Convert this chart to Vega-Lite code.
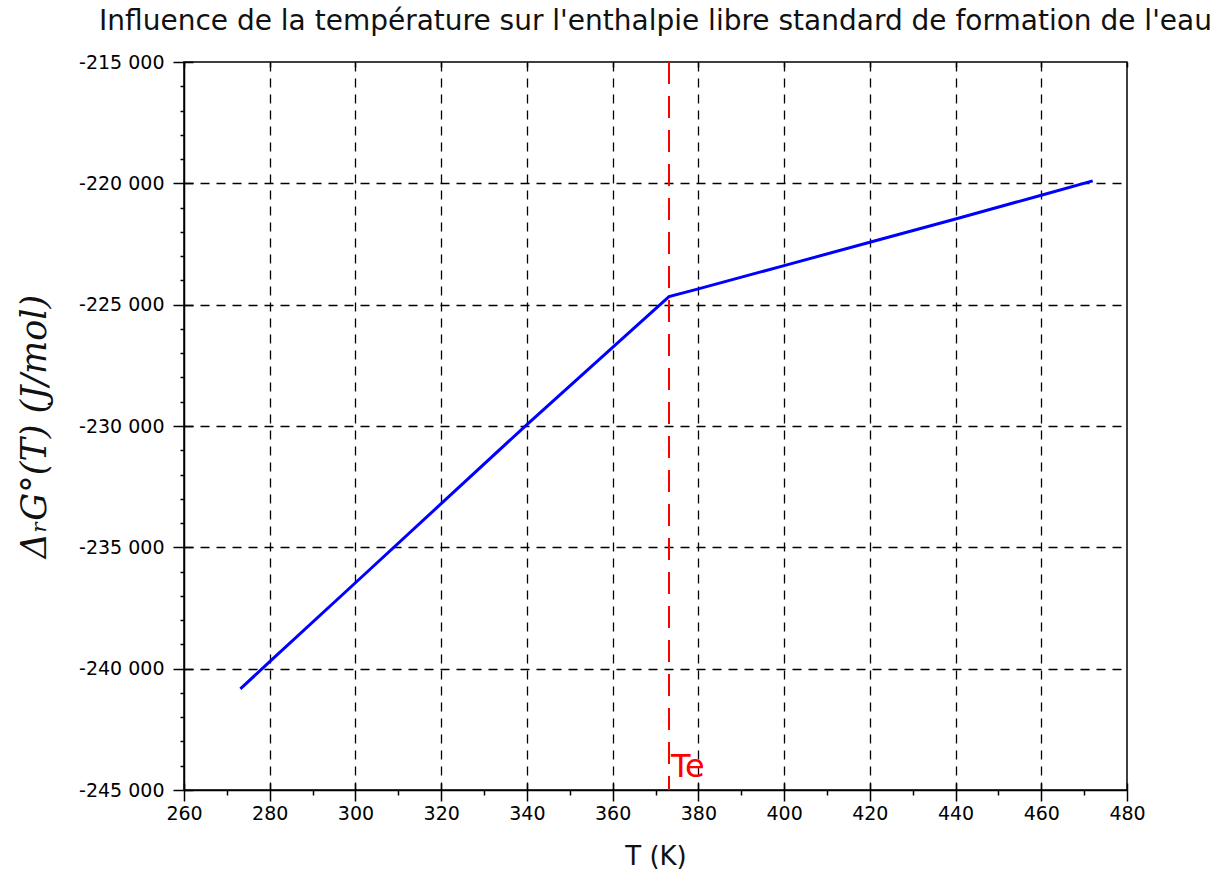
{
  "$schema": "https://vega.github.io/schema/vega-lite/v6.json",
  "width": 943,
  "height": 728,
  "autosize": {"type": "none"},
  "padding": {"left": 184, "top": 62, "right": 101, "bottom": 86},
  "background": "white",
  "title": {
    "text": "Influence de la température sur l'enthalpie libre standard de formation de l'eau",
    "anchor": "middle",
    "frame": "group",
    "font": "DejaVu Sans",
    "fontSize": 28,
    "fontWeight": "normal",
    "color": "#111111",
    "offset": 17
  },
  "config": {
    "view": {"stroke": "black", "strokeWidth": 1.5},
    "axis": {
      "labelFont": "DejaVu Sans",
      "labelColor": "black",
      "tickColor": "black",
      "domainColor": "black",
      "titleFont": "DejaVu Sans",
      "titleColor": "#111111",
      "titleFontWeight": "normal"
    }
  },
  "resolve": {"axis": {"x": "independent", "y": "independent"}},
  "layer": [
    {
      "data": {
        "values": [
          {"T": 273.15, "G": -240830},
          {"T": 280, "G": -239710},
          {"T": 300, "G": -236460},
          {"T": 320, "G": -233200},
          {"T": 340, "G": -229940},
          {"T": 360, "G": -226760},
          {"T": 373.15, "G": -224670},
          {"T": 380, "G": -224350},
          {"T": 400, "G": -223390},
          {"T": 420, "G": -222430},
          {"T": 440, "G": -221470},
          {"T": 460, "G": -220490},
          {"T": 472, "G": -219900}
        ]
      },
      "mark": {"type": "line", "color": "#0000ff", "strokeWidth": 3},
      "encoding": {
        "x": {
          "field": "T",
          "type": "quantitative",
          "scale": {"domain": [260, 480], "nice": false, "zero": false},
          "axis": {
            "orient": "bottom",
            "title": "T (K)",
            "titleFontSize": 26,
            "titlePadding": 20,
            "values": [260,270,280,290,300,310,320,330,340,350,360,370,380,390,400,410,420,430,440,450,460,470,480],
            "labelExpr": "datum.value % 20 === 0 ? datum.label : ''",
            "labelFontSize": 19,
            "labelPadding": 3,
            "labelFlush": false,
            "labelOverlap": false,
            "tickSize": {"condition": {"test": "datum.value % 20 === 0", "value": 11}, "value": 5},
            "tickWidth": 1.5,
            "domainWidth": 1.5,
            "grid": true,
            "gridColor": "black",
            "gridDash": [9, 7],
            "gridWidth": 1.3,
            "gridOpacity": {"condition": {"test": "datum.value % 20 === 0 && datum.value > 260 && datum.value < 480", "value": 1}, "value": 0}
          }
        },
        "y": {
          "field": "G",
          "type": "quantitative",
          "scale": {"domain": [-245000, -215000], "nice": false, "zero": false},
          "axis": {
            "orient": "left",
            "title": "ΔᵣG°(T)  (J/mol)",
            "titleFont": "DejaVu Serif",
            "titleFontStyle": "italic",
            "titleFontSize": 35,
            "titlePadding": 26,
            "values": [-245000,-244000,-243000,-242000,-241000,-240000,-239000,-238000,-237000,-236000,-235000,-234000,-233000,-232000,-231000,-230000,-229000,-228000,-227000,-226000,-225000,-224000,-223000,-222000,-221000,-220000,-219000,-218000,-217000,-216000,-215000],
            "labelExpr": "datum.value % 5000 === 0 ? (datum.value < 0 ? '-' : '') + replace(format(abs(datum.value), ','), ',', ' ') : ''",
            "labelFontSize": 19,
            "labelPadding": 9,
            "labelFlush": false,
            "labelOverlap": false,
            "tickSize": {"condition": {"test": "datum.value % 5000 === 0", "value": 11}, "value": 4},
            "tickWidth": 1.5,
            "domainWidth": 1.5,
            "grid": true,
            "gridColor": "black",
            "gridDash": [9, 7],
            "gridWidth": 1.3,
            "gridOpacity": {"condition": {"test": "datum.value % 5000 === 0 && datum.value > -245000 && datum.value < -215000", "value": 1}, "value": 0}
          }
        }
      }
    },
    {
      "data": {"values": [{"T": 373.15}]},
      "mark": {"type": "rule", "color": "#ff0000", "strokeWidth": 2, "strokeDash": [22, 12]},
      "encoding": {
        "x": {
          "field": "T",
          "type": "quantitative",
          "axis": {
            "orient": "top",
            "title": null,
            "values": [260,280,300,320,340,360,380,400,420,440,460,480],
            "labels": false,
            "domain": false,
            "grid": false,
            "tickSize": -5,
            "tickWidth": 1.5
          }
        }
      }
    },
    {
      "data": {"values": [{"T": 373.15, "G": -244460, "label": "Te"}]},
      "mark": {"type": "text", "color": "#ff0000", "font": "DejaVu Sans", "fontSize": 32, "align": "left", "baseline": "alphabetic", "dx": 2},
      "encoding": {
        "x": {
          "field": "T",
          "type": "quantitative",
          "axis": {
            "orient": "bottom",
            "title": null,
            "values": [260,280,300,320,340,360,380,400,420,440,460,480],
            "labels": false,
            "domain": false,
            "grid": false,
            "tickSize": -7,
            "tickWidth": 1.5
          }
        },
        "y": {
          "field": "G",
          "type": "quantitative",
          "axis": {
            "orient": "left",
            "title": null,
            "values": [-245000,-240000,-235000,-230000,-225000,-220000,-215000],
            "labels": false,
            "domain": false,
            "grid": false,
            "tickSize": -9,
            "tickWidth": 1.5
          }
        },
        "text": {"field": "label"}
      }
    }
  ]
}
